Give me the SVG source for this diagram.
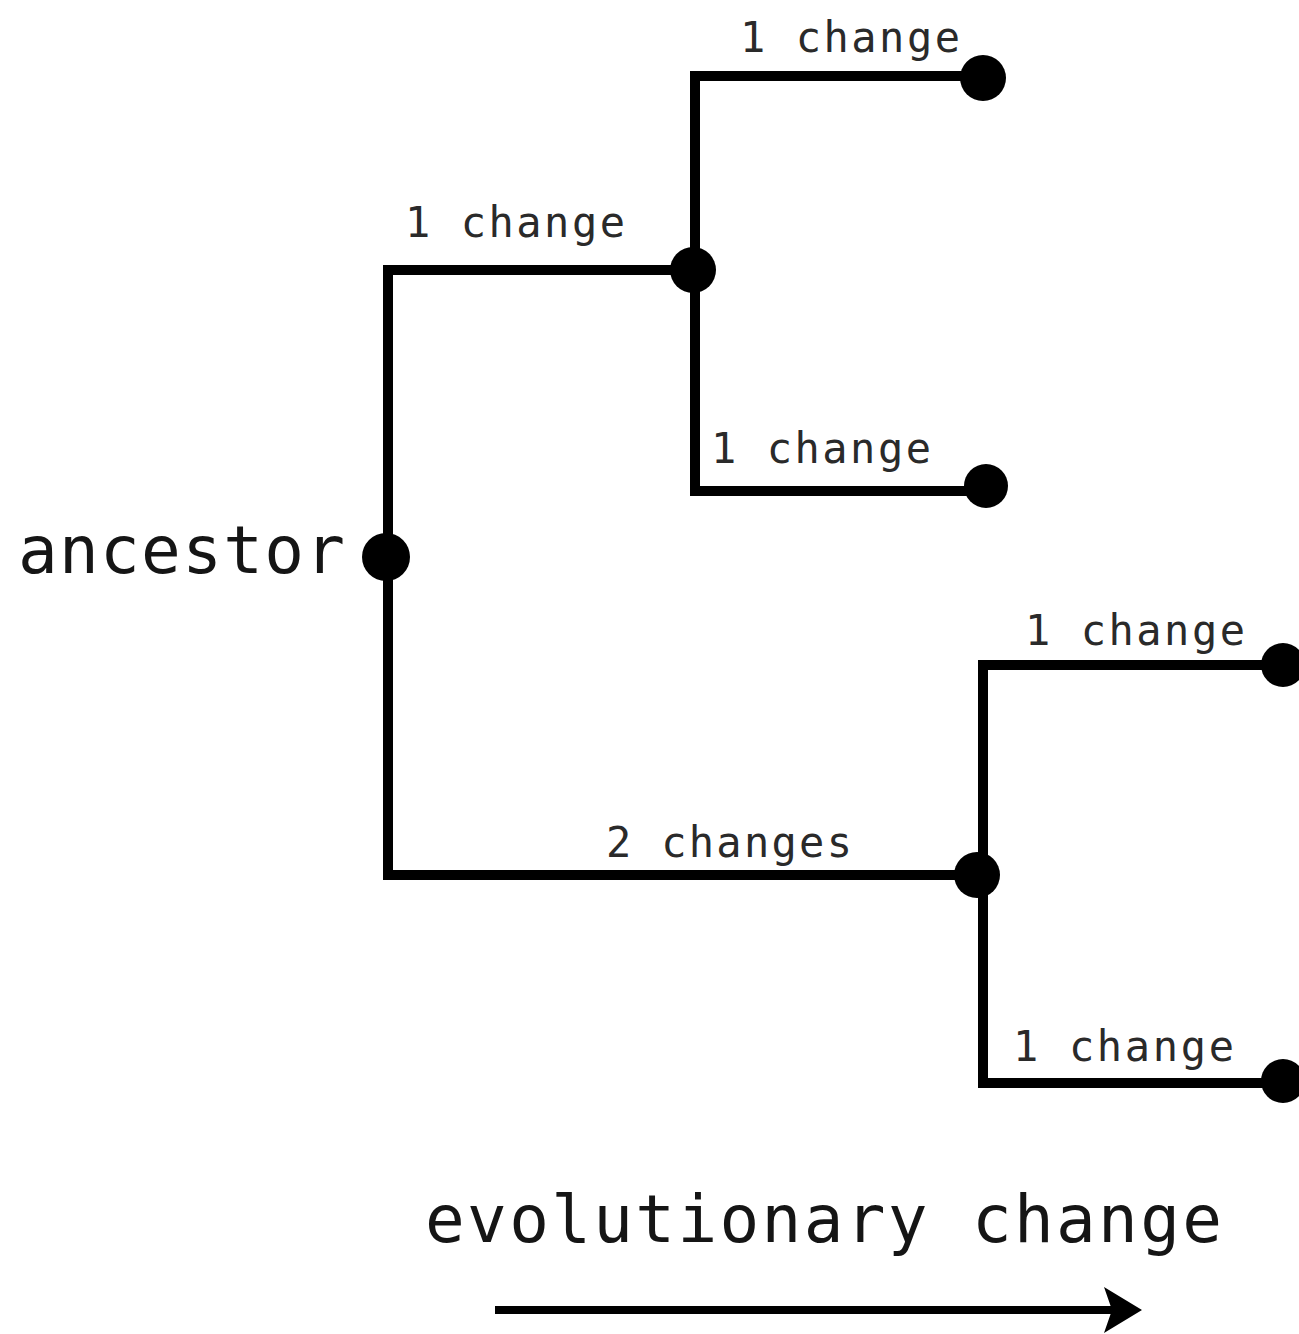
<svg xmlns="http://www.w3.org/2000/svg" width="1299" height="1334" viewBox="0 0 1299 1334">
  <style>
    .edge { fill: none; stroke: #000; stroke-width: 10; stroke-linejoin: miter; stroke-linecap: square; }
    .dot { fill: #000; }
    .lbl { font-family: "DejaVu Sans Mono", "Liberation Mono", monospace; font-size: 42px; fill: #2a2a2a; }
    .big { font-family: "DejaVu Sans Mono", "Liberation Mono", monospace; font-size: 66px; fill: #151515; }
  </style>
  <rect width="1299" height="1334" fill="#fff"/>

  <!-- branches of the tree -->
  <g id="connectors">
    <polyline class="edge" points="693,270 388,270 388,875 977,875"/>
    <polyline class="edge" points="983,76 695,76 695,491 985,491"/>
    <polyline class="edge" points="1282,665 983,665 983,1083 1282,1083"/>
  </g>

  <!-- branch labels -->
  <g id="labels">
    <text class="lbl" x="740" y="52" textLength="220" lengthAdjust="spacing">1 change</text>
    <text class="lbl" x="405" y="237" textLength="220" lengthAdjust="spacing">1 change</text>
    <text class="lbl" x="711" y="463" textLength="220" lengthAdjust="spacing">1 change</text>
    <text class="lbl" x="1025" y="645" textLength="220" lengthAdjust="spacing">1 change</text>
    <text class="lbl" x="606" y="857" textLength="246" lengthAdjust="spacing">2 changes</text>
    <text class="lbl" x="1013" y="1061" textLength="221" lengthAdjust="spacing">1 change</text>
  </g>

  <!-- nodes -->
  <g id="ancestor">
    <circle class="dot" cx="386" cy="557" r="24"/>
    <text class="big" x="18" y="573" textLength="327" lengthAdjust="spacing">ancestor</text>
  </g>
  <g id="node-upper"><circle class="dot" cx="693" cy="270" r="23"/></g>
  <g id="node-lower"><circle class="dot" cx="977" cy="875" r="23"/></g>
  <g id="leaf-1"><circle class="dot" cx="983" cy="78" r="23"/></g>
  <g id="leaf-2"><circle class="dot" cx="986" cy="486" r="22"/></g>
  <g id="leaf-3"><circle class="dot" cx="1283" cy="665" r="22"/></g>
  <g id="leaf-4"><circle class="dot" cx="1283" cy="1081" r="22"/></g>

  <!-- time axis -->
  <g id="axis">
    <text class="big" x="425" y="1242" textLength="797" lengthAdjust="spacing">evolutionary change</text>
    <line x1="495" y1="1310" x2="1115" y2="1310" stroke="#000" stroke-width="8"/>
    <path d="M1104,1287 L1142,1310 L1104,1333 L1112,1310 Z" fill="#000"/>
  </g>
</svg>
